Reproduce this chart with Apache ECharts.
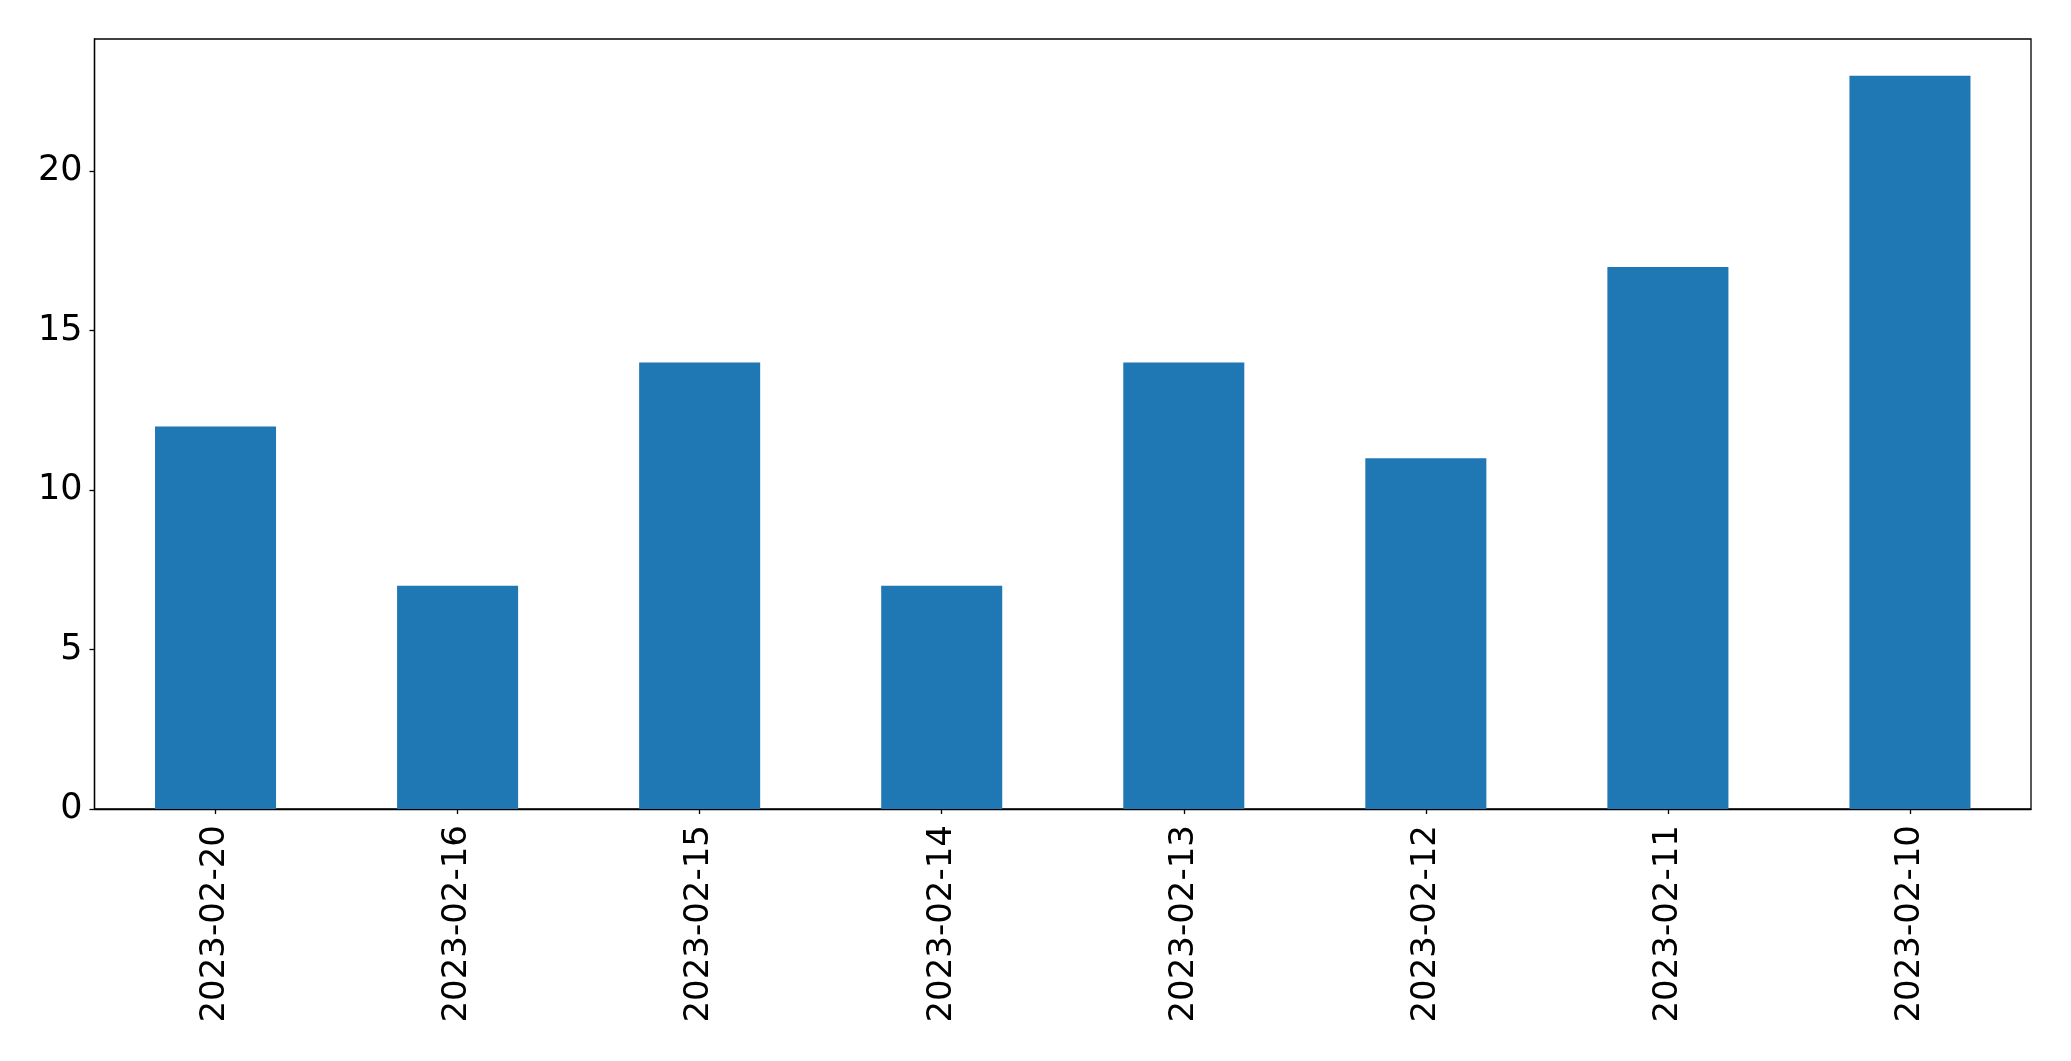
<!DOCTYPE html>
<html>
<head>
<meta charset="utf-8">
<script src="https://cdn.jsdelivr.net/npm/echarts@6/dist/echarts.min.js"></script>
<style>
html,body{margin:0;padding:0;background:#fff;}
#chart{width:2071px;height:1061px;}
</style>
</head>
<body>
<div id="chart"></div>
<script>
const categories = ['2023-02-20','2023-02-16','2023-02-15','2023-02-14','2023-02-13','2023-02-12','2023-02-11','2023-02-10'];
const values = [12, 7, 14, 7, 14, 11, 17, 23];
const yTicks = [0, 5, 10, 15, 20];

const chart = echarts.init(document.getElementById('chart'));
const font = 'DejaVu Sans';
chart.setOption({
  animation: false,
  backgroundColor: '#ffffff',
  grid: {
    left: 94.5, right: 40, top: 39, bottom: 252,
    show: true, borderColor: '#000', borderWidth: 1.3, backgroundColor: 'transparent'
  },
  xAxis: {
    type: 'category',
    data: categories,
    boundaryGap: true,
    axisLine: { show: true, lineStyle: { color: '#000', width: 1.3 } },
    axisTick: { show: true, alignWithLabel: true, length: 5, lineStyle: { color: '#000', width: 1.3 } },
    axisLabel: { rotate: 90, margin: 16, fontSize: 34, color: '#000', fontFamily: font, interval: 0 }
  },
  yAxis: {
    type: 'value',
    min: 0,
    max: 24.15,
    interval: 5,
    splitLine: { show: false },
    axisLine: { show: true, lineStyle: { color: '#000', width: 1.3 } },
    axisTick: { show: true, length: 5, customValues: yTicks, lineStyle: { color: '#000', width: 1.3 } },
    axisLabel: {
      margin: 12, fontSize: 35, color: '#000', fontFamily: font,
      padding: [5, 0, 0, 0],
      customValues: yTicks,
      formatter: function (v) { return yTicks.indexOf(v) >= 0 ? String(v) : ''; }
    }
  },
  series: [{
    type: 'bar',
    data: values,
    barWidth: '50%',
    itemStyle: { color: '#1f77b4' }
  }]
});
</script>
</body>
</html>
